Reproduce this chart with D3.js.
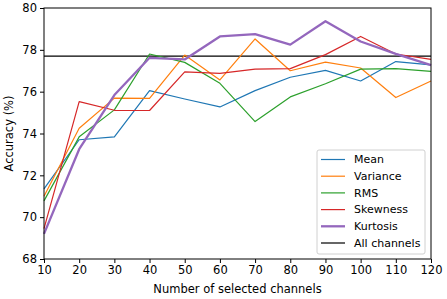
<!DOCTYPE html>
<html>
<head>
<meta charset="utf-8">
<script src="https://cdn.jsdelivr.net/npm/d3@7"></script>
<style>
  body { margin: 0; background: white; }
  svg { display: block; font-family: "DejaVu Sans", sans-serif; }
</style>
</head>
<body>
<script>
// Number of selected channels
const channels = [10, 20, 30, 40, 50, 60, 70, 80, 90, 100, 110, 120];

// accuracy (%) per feature
const mean     = [71.35, 73.7, 73.84, 76.05, 75.65, 75.27, 76.05, 76.69, 77.02, 76.51, 77.44, 77.28];
const variance = [71.0, 74.25, 75.69, 75.68, 77.75, 76.56, 78.52, 77.0, 77.41, 77.13, 75.72, 76.51];
const rms      = [70.78, 73.84, 75.13, 77.8, 77.4, 76.4, 74.57, 75.75, 76.38, 77.08, 77.1, 76.97];
const skewness = [69.45, 75.52, 75.11, 75.1, 76.95, 76.87, 77.08, 77.1, 77.77, 78.64, 77.8, 77.54];
const kurtosis = [69.2, 73.25, 75.84, 77.62, 77.54, 78.64, 78.75, 78.25, 79.37, 78.4, 77.81, 77.27];
const allChannels = 77.7;

const seriesNames = ["Mean", "Variance", "RMS", "Skewness", "Kurtosis"];
const seriesValues = [mean, variance, rms, skewness, kurtosis];
const colors = ["#1f77b4", "#ff7f0e", "#2ca02c", "#d62728", "#9467bd"];

const xTicks = [10, 20, 30, 40, 50, 60, 70, 80, 90, 100, 110, 120];
const yTicks = [68, 70, 72, 74, 76, 78, 80];

const width = 447, height = 299;
const margin = {top: 8, right: 16, bottom: 40, left: 44};
const fs = 11.5;

const svg = d3.select("body").append("svg")
    .attr("width", width)
    .attr("height", height);

const x = d3.scaleLinear().domain([10, 120]).range([margin.left, width - margin.right]);
const y = d3.scaleLinear().domain([68, 80]).range([height - margin.bottom, margin.top]);

// x axis
svg.append("g")
    .attr("transform", `translate(0,${height - margin.bottom})`)
    .call(d3.axisBottom(x).tickValues(xTicks).tickSize(4).tickPadding(3))
    .call(g => g.select(".domain").remove())
    .call(g => g.selectAll("text").attr("font-size", fs).attr("fill", "#000").attr("font-family", "DejaVu Sans"));

// y axis
svg.append("g")
    .attr("transform", `translate(${margin.left},0)`)
    .call(d3.axisLeft(y).tickValues(yTicks).tickSize(4).tickPadding(3))
    .call(g => g.select(".domain").remove())
    .call(g => g.selectAll("text").attr("font-size", fs).attr("fill", "#000").attr("font-family", "DejaVu Sans"));

// all channels reference line
svg.append("line")
    .attr("x1", x(10)).attr("x2", x(120))
    .attr("y1", y(allChannels)).attr("y2", y(allChannels))
    .attr("stroke", "#000")
    .attr("stroke-width", 1.2);

const line = d3.line()
    .x((d, i) => x(channels[i]))
    .y(d => y(d));

seriesValues.forEach((vals, i) => {
  svg.append("path")
      .datum(vals)
      .attr("fill", "none")
      .attr("stroke", colors[i])
      .attr("stroke-width", i === 4 ? 2.3 : 1.2)
      .attr("stroke-linejoin", "round")
      .attr("d", line);
});

// frame
svg.append("rect")
    .attr("x", margin.left).attr("y", margin.top)
    .attr("width", x(120) - x(10))
    .attr("height", y(68) - y(80))
    .attr("fill", "none")
    .attr("stroke", "#000")
    .attr("stroke-width", 1);

// axis labels
svg.append("text")
    .attr("x", (x(10) + x(120)) / 2)
    .attr("y", height - 6)
    .attr("text-anchor", "middle")
    .attr("font-size", fs)
    .text("Number of selected channels");

svg.append("text")
    .attr("transform", `translate(13,${(y(68) + y(80)) / 2}) rotate(-90)`)
    .attr("text-anchor", "middle")
    .attr("font-size", fs)
    .text("Accuracy (%)");

// legend
const legendItems = seriesNames.map((n, i) => ({label: n, color: colors[i], w: i === 4 ? 2.3 : 1.2}))
    .concat([{label: "All channels", color: "#000", w: 1.2}]);

const legend = svg.append("g").attr("transform", "translate(317,150)");
legend.append("rect")
    .attr("width", 108).attr("height", 104)
    .attr("rx", 2)
    .attr("fill", "white").attr("fill-opacity", 0.8)
    .attr("stroke", "#d0d0d0");

legend.selectAll("line.key")
  .data(legendItems)
  .join("line")
    .attr("x1", 4).attr("x2", 28)
    .attr("y1", (d, i) => 9.5 + i * 16.7)
    .attr("y2", (d, i) => 9.5 + i * 16.7)
    .attr("stroke", d => d.color)
    .attr("stroke-width", d => d.w);

legend.selectAll("text")
  .data(legendItems)
  .join("text")
    .attr("x", 37)
    .attr("y", (d, i) => 9.5 + i * 16.7)
    .attr("dy", "0.35em")
    .attr("font-size", 11)
    .text(d => d.label);
</script>
</body>
</html>
